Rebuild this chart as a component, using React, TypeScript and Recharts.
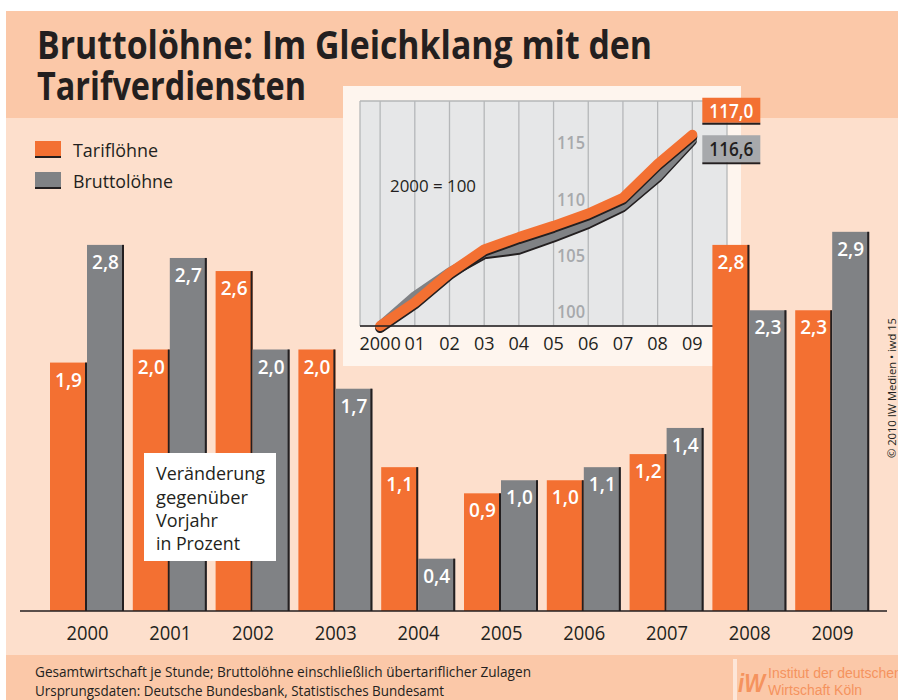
import React from 'react';
import {
  BarChart,
  Bar,
  XAxis,
  YAxis,
  LabelList,
  LineChart,
  Line,
  CartesianGrid,
  ReferenceLine,
} from 'recharts';

// ---------- data ----------
const years = ['2000', '2001', '2002', '2003', '2004', '2005', '2006', '2007', '2008', '2009'];
const tarifChange = [1.9, 2.0, 2.6, 2.0, 1.1, 0.9, 1.0, 1.2, 2.8, 2.3];
const bruttoChange = [2.8, 2.7, 2.0, 1.7, 0.4, 1.0, 1.1, 1.4, 2.3, 2.9];

const indexLabels = ['2000', '01', '02', '03', '04', '05', '06', '07', '08', '09'];
const tarifIndex = [100, 102.1, 104.7, 106.8, 107.9, 108.9, 110.0, 111.4, 114.4, 117.0];
const bruttoIndex = [100, 102.7, 104.8, 106.5, 106.9, 108.0, 109.2, 110.7, 113.3, 116.6];
const indexTicks = [100, 105, 110, 115, 120];
const indexLabelTicks = [100, 105, 110, 115];
const indexXTicks = [0, 1, 2, 3, 4, 5, 6, 7, 8, 9, 10];

const legendNames = ['Tariflöhne', 'Bruttolöhne'];

// ---------- styles ----------
const ORANGE = '#F37032';
const GRAY = '#808285';
const LIGHTGRAY = '#A7A9AC';
const DARK = '#231F20';
const HEADER = '#FBC8A8';
const BODY = '#FDDFCC';
const FONT = '"Open Sans", "Noto Sans", sans-serif';

const fmt = (v: number) => v.toFixed(1).replace('.', ',');

const barData = years.map((y, i) => ({ year: y, tarif: tarifChange[i], brutto: bruttoChange[i] }));
const lineData = indexLabels.map((l, i) => ({ i, label: l, tarif: tarifIndex[i], brutto: bruttoIndex[i] }));

const BarShape = (props: any) => {
  const { x, y, width, height, fill } = props;
  if (height <= 0) return null;
  return (
    <g>
      <rect x={x} y={y} width={width} height={height} fill={fill} />
      <rect x={x + width - 2} y={y} width={2} height={height} fill={DARK} />
    </g>
  );
};

const BarValueLabel = (props: any) => {
  const { x, y, width, value } = props;
  return (
    <text
      x={x + width / 2}
      y={y + 24}
      textAnchor="middle"
      fill="#FFFFFF"
      fontSize={19}
      fontWeight={600}
      fontFamily={FONT}
    >
      {fmt(Number(value))}
    </text>
  );
};

const YearTick = (props: any) => {
  const { x, y, payload } = props;
  return (
    <text x={x} y={y + 15} textAnchor="middle" fill={DARK} fontSize={20} fontFamily={FONT} textLength={42} lengthAdjust="spacingAndGlyphs">
      {payload.value}
    </text>
  );
};

const makeYLabel = (v: number) => (props: any) => {
  const vb = props.viewBox || {};
  return (
    <text x={231} y={(vb.y ?? 0) - 8} textAnchor="middle" fill={LIGHTGRAY} fontSize={18} fontWeight={600} fontFamily={FONT} textLength={28} lengthAdjust="spacingAndGlyphs">
      {String(v)}
    </text>
  );
};

const makeEndLabel = (kind: 'tarif' | 'brutto') => (props: any) => {
  const { x, y, value, index } = props;
  const last = lineData.length - 1;
  if (index !== last) return null;
  if (kind === 'tarif') {
    return (
      <g>
        <rect x={x + 10} y={y - 37} width={58} height={25} fill={ORANGE} />
        <rect x={x + 10} y={y - 12} width={58} height={2} fill={DARK} />
        <text x={x + 39} y={y - 17} textAnchor="middle" fill="#FFFFFF" fontSize={20} fontWeight={600} fontFamily={FONT} textLength={44} lengthAdjust="spacingAndGlyphs">
          {fmt(Number(value))}
        </text>
      </g>
    );
  }
  return (
    <g>
      <rect x={x + 10} y={y - 4} width={58} height={27} fill={LIGHTGRAY} />
      <rect x={x + 10} y={y + 23} width={58} height={2} fill={DARK} />
      <text x={x + 39} y={y + 17} textAnchor="middle" fill={DARK} fontSize={20} fontWeight={600} fontFamily={FONT} textLength={44} lengthAdjust="spacingAndGlyphs">
        {fmt(Number(value))}
      </text>
    </g>
  );
};

const T = (p: any) => (
  <text
    x={p.x}
    y={p.y}
    fontSize={p.size}
    fontWeight={p.weight || 400}
    fill={p.fill || DARK}
    fontFamily={p.family || FONT}
    textAnchor={p.anchor || 'start'}
    textLength={p.len}
    lengthAdjust={p.len ? 'spacingAndGlyphs' : undefined}
    transform={p.transform}
  >
    {p.children}
  </text>
);

export default function App() {
  return (
    <div style={{ position: 'absolute', left: 0, top: 0, width: 898, height: 700, overflow: 'hidden', background: '#FFFFFF' }}>
      <style>{`.shadowed .recharts-line-curve { filter: drop-shadow(0px 2px 0px ${DARK}); }`}</style>
      {/* backgrounds */}
      <div style={{ position: 'absolute', left: 6, top: 11, width: 892, height: 107, background: HEADER }} />
      <div style={{ position: 'absolute', left: 6, top: 118, width: 892, height: 537, background: BODY }} />
      <div style={{ position: 'absolute', left: 6, top: 655, width: 892, height: 45, background: HEADER }} />

      {/* inset panel */}
      <div style={{ position: 'absolute', left: 343, top: 86, width: 398, height: 280, background: '#FEF5EE' }} />
      <div style={{ position: 'absolute', left: 340, top: 80 }}>
        <LineChart width={430} height={300} data={lineData} margin={{ top: 21, right: 43, bottom: 24, left: 20 }}>
          <CartesianGrid fill="#E6E7E8" stroke="#B5B7B9" strokeWidth={1.3} />
          <XAxis
            type="number"
            dataKey="i"
            domain={[-0.58, 10]}
            ticks={indexXTicks}
            allowDataOverflow
            height={30}
            tickLine={false}
            tickSize={4}
            tickMargin={7}
            axisLine={{ stroke: DARK, strokeWidth: 1.5 }}
            tickFormatter={(v: number) => indexLabels[v] ?? ''}
            tick={{ fontSize: 18, fill: DARK, fontFamily: FONT }}
            interval={0}
          />
          <YAxis
            type="number"
            domain={[100, 120]}
            ticks={indexTicks}
            width={0}
            axisLine={false}
            tickLine={false}
            tick={false}
            interval={0}
          />
          {indexLabelTicks.map((v) => (
            <ReferenceLine key={v} y={v} stroke="none" label={makeYLabel(v)} />
          ))}
          <Line
            className="shadowed"
            dataKey="brutto"
            stroke={GRAY}
            strokeWidth={9}
            strokeLinecap="round"
            strokeLinejoin="round"
            dot={false}
            isAnimationActive={false}
          >
            <LabelList dataKey="brutto" content={makeEndLabel('brutto')} />
          </Line>
          <Line
            className="shadowed"
            dataKey="tarif"
            stroke={ORANGE}
            strokeWidth={10}
            strokeLinecap="round"
            strokeLinejoin="round"
            dot={false}
            isAnimationActive={false}
          >
            <LabelList dataKey="tarif" content={makeEndLabel('tarif')} />
          </Line>
        </LineChart>
      </div>

      {/* main bar chart */}
      <div style={{ position: 'absolute', left: 0, top: 0 }}>
        <BarChart width={898} height={700} data={barData} margin={{ top: 88, right: 11, bottom: 49, left: 20 }} barGap={0} barSize={37}>
          <XAxis
            dataKey="year"
            height={40}
            padding={{ left: 26, right: 13 }}
            tickLine={false}
            tickSize={6}
            tickMargin={8}
            axisLine={{ stroke: DARK, strokeWidth: 1.5 }}
            tick={<YearTick />}
            interval={0}
          />
          <YAxis hide domain={[0, 4]} />
          <Bar dataKey="tarif" fill={ORANGE} shape={<BarShape />} isAnimationActive={false}>
            <LabelList dataKey="tarif" content={<BarValueLabel />} />
          </Bar>
          <Bar dataKey="brutto" fill={GRAY} shape={<BarShape />} isAnimationActive={false}>
            <LabelList dataKey="brutto" content={<BarValueLabel />} />
          </Bar>
        </BarChart>
      </div>

      {/* texts overlay */}
      <svg width={898} height={700} style={{ position: 'absolute', left: 0, top: 0, pointerEvents: 'none' }}>
        <T x={37} y={59} size={40} weight={700} len={615}>Bruttolöhne: Im Gleichklang mit den</T>
        <T x={37} y={100} size={40} weight={700} len={269}>Tarifverdiensten</T>

        {/* legend */}
        <rect x={35} y={141} width={26} height={15} fill={ORANGE} />
        <rect x={35} y={156} width={26} height={2} fill={DARK} />
        <T x={73} y={157} size={19} len={85}>{legendNames[0]}</T>
        <rect x={35} y={172} width={26} height={15} fill={GRAY} />
        <rect x={35} y={187} width={26} height={2} fill={DARK} />
        <T x={73} y={188} size={19} len={100}>{legendNames[1]}</T>

        {/* inset note */}
        <T x={390} y={192} size={17} len={86}>2000 = 100</T>

        {/* note box */}
        <rect x={144} y={453} width={132} height={108} fill="#FFFFFF" />
        <T x={156} y={480} size={19} len={109}>Veränderung</T>
        <T x={156} y={503.5} size={19} len={92}>gegenüber</T>
        <T x={156} y={527} size={19} len={62}>Vorjahr</T>
        <T x={156} y={550} size={19} len={84}>in Prozent</T>

        {/* footer */}
        <T x={35} y={677} size={14} len={496}>Gesamtwirtschaft je Stunde; Bruttolöhne einschließlich übertariflicher Zulagen</T>
        <T x={35} y={696} size={14} len={409}>Ursprungsdaten: Deutsche Bundesbank, Statistisches Bundesamt</T>

        {/* logo */}
        <rect x={733} y={659} width={4} height={41} fill="#FDE6D8" />
        <text x={738} y={692} fontSize={26} fontWeight={700} fontStyle="italic" fill="#F5935E" fontFamily="Liberation Sans, Arial, sans-serif" textLength={27} lengthAdjust="spacingAndGlyphs">iW</text>
        <T x={768} y={678} size={14} fill="#F5935E" family="Liberation Sans, Arial, sans-serif">Institut der deutschen</T>
        <T x={768} y={695} size={14} fill="#F5935E" family="Liberation Sans, Arial, sans-serif">Wirtschaft Köln</T>

        {/* copyright */}
        <T x={896} y={388} size={10} anchor="middle" transform="rotate(-90 896 388)" len={140}>© 2010 IW Medien • iwd 15</T>
      </svg>
    </div>
  );
}
